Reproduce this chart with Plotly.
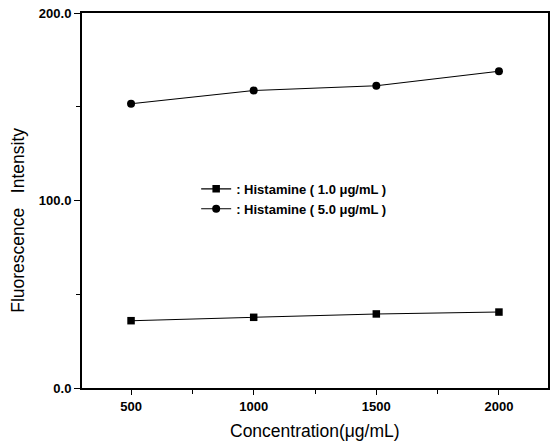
import plotly.graph_objects as go

concentration = [500, 1000, 1500, 2000]
histamine_1 = [35.9, 37.7, 39.5, 40.5]
histamine_5 = [151.6, 158.7, 161.2, 168.9]
series_names = [": Histamine ( 1.0 μg/mL )", ": Histamine ( 5.0 μg/mL )"]
y_tickvals = [0, 100, 200]
y_ticktext = ["0.0", "100.0", "200.0"]
x_tickvals = [500, 1000, 1500, 2000]
x_title = "Concentration(μg/mL)"
y_title = "Fluorescence   Intensity"

fig = go.Figure()
fig.add_trace(go.Scatter(x=concentration, y=histamine_1, mode="lines+markers",
                         name=series_names[0],
                         line=dict(color="black", width=1.1),
                         marker=dict(symbol="square", size=7.5, color="black")))
fig.add_trace(go.Scatter(x=concentration, y=histamine_5, mode="lines+markers",
                         name=series_names[1],
                         line=dict(color="black", width=1.1),
                         marker=dict(symbol="circle", size=8, color="black")))

font_family = "Liberation Sans, Arial, sans-serif"
fig.update_layout(
    width=555, height=442,
    margin=dict(l=82, r=7, t=13, b=54, autoexpand=False),
    paper_bgcolor="white", plot_bgcolor="white",
    font=dict(family=font_family, color="black"),
    showlegend=True,
    legend=dict(x=0.245, y=0.571, xanchor="left", yanchor="top",
                bgcolor="rgba(0,0,0,0)",
                font=dict(size=13, color="black", weight="bold"),
                tracegroupgap=0, itemwidth=30),
    xaxis=dict(range=[300, 2200], tickvals=x_tickvals, automargin=False,
               ticks="outside", ticklen=5, tickwidth=1, tickcolor="black",
               minor=dict(tickvals=[750, 1250, 1750], ticks="outside", ticklen=4, tickcolor="black"),
               showline=True, linecolor="black", linewidth=2, mirror=True,
               showgrid=False, zeroline=False, ticklabeloverflow="allow",
               tickfont=dict(size=13, weight="bold")),
    yaxis=dict(range=[0, 200], tickvals=y_tickvals, ticktext=y_ticktext, automargin=False,
               ticks="outside", ticklen=6, tickwidth=1, tickcolor="black",
               minor=dict(tickvals=[50, 150], ticks="outside", ticklen=4, tickcolor="black"),
               showline=True, linecolor="black", linewidth=2, mirror=True,
               showgrid=False, zeroline=False, ticklabeloverflow="allow",
               tickfont=dict(size=13, weight="bold")),
    annotations=[
        dict(text=x_title, xref="paper", yref="paper", x=0.5, y=-0.1147,
             xanchor="center", yanchor="middle", showarrow=False,
             font=dict(size=17.5, color="black")),
        dict(text=y_title, xref="paper", yref="paper", x=-0.1373, y=0.446,
             xanchor="center", yanchor="middle", textangle=-90, showarrow=False,
             font=dict(size=17.5, color="black")),
    ],
)

fig.write_html("out.html",
               config={"displayModeBar": False},
               post_script="document.body.style.margin='0';document.body.style.overflow='hidden';")
